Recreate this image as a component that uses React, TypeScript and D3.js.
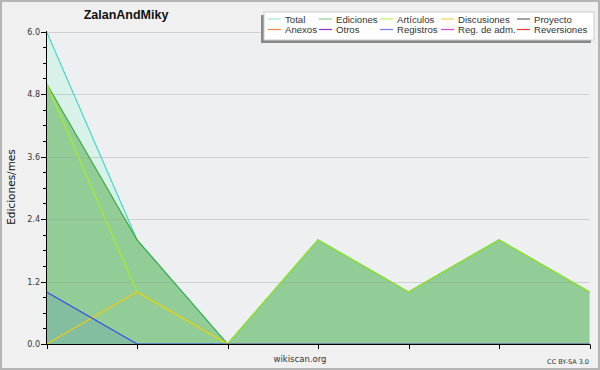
import React from "react";
import * as d3 from "d3";

const months = ["m1", "m2", "m3", "m4", "m5", "m6", "m7"];
const total = [6, 2, 0, 2, 1, 2, 1];
const ediciones = [5, 2, 0, 2, 1, 2, 1];
const articulos = [5, 1, 0, 2, 1, 2, 1];
const discusiones = [0, 1, 0, 0, 0, 0, 0];
const registros = [1, 0, 0, 0, 0, 0, 0];
const yMajorTicks = [0, 1.2, 2.4, 3.6, 4.8, 6.0];
const yMinorTicks = d3.range(0, 21).map((i) => i * 0.3);

const legendRow1 = [
  { name: "Total", color: "#a6e4de" },
  { name: "Ediciones", color: "#8fce92" },
  { name: "Artículos", color: "#ccee66" },
  { name: "Discusiones", color: "#ffcc55" },
  { name: "Proyecto", color: "#666666" },
];
const legendRow2 = [
  { name: "Anexos", color: "#ee8844" },
  { name: "Otros", color: "#8833cc" },
  { name: "Registros", color: "#7777ee" },
  { name: "Reg. de adm.", color: "#cc44dd" },
  { name: "Reversiones", color: "#ee3333" },
];
const legendCols = [268, 319, 380, 441, 517];

export default function App() {
  const W = 600, H = 370;
  const x = d3.scalePoint<number>().domain(d3.range(months.length)).range([46.5, 589.5]);
  const y = d3.scaleLinear().domain([0, 6]).range([344, 31.5]);
  const area = d3.area<number>().x((_, i) => x(i)!).y0(y(0)).y1((d) => y(d));
  const line = d3.line<number>().x((_, i) => x(i)!).y((d) => y(d));
  const font = "DejaVu Sans, sans-serif";
  const lfont = "Liberation Sans, Arial, sans-serif";

  return (
    <svg width={W} height={H} style={{ position: "absolute", left: 0, top: 0 }} xmlns="http://www.w3.org/2000/svg">
      <rect x={0} y={0} width={W} height={H} fill="#f0f0f0" />
      <rect x={1} y={1} width={W - 2} height={H - 2} fill="none" stroke="#b4b4b4" strokeWidth={2} />
      <rect x={46.5} y={31.5} width={543} height={312.5} fill="#eeeff1" />

      {/* fills */}
      <path d={area(total)!} fill="#d8f2ea" />
      <path d={area(ediciones)!} fill="#92cc96" />
      <path d={area(registros)!} fill="#83bea1" />

      {/* grid */}
      {yMajorTicks.slice(1).map((t) => (
        <line key={t} x1={46.5} x2={589.5} y1={Math.round(y(t)) + 0.5} y2={Math.round(y(t)) + 0.5} stroke="#999" strokeOpacity={0.35} />
      ))}

      {/* lines */}
      <path d={line(total)!} fill="none" stroke="#40d8c8" strokeWidth={1.1} />
      <path d={line(ediciones)!} fill="none" stroke="#3aa83a" strokeWidth={1.1} />
      <path d={line(articulos)!} fill="none" stroke="#aaee22" strokeWidth={1.1} />
      <path d={line(discusiones)!} fill="none" stroke="#eecc11" strokeWidth={1.1} />
      <path d={line(registros)!} fill="none" stroke="#3344ee" strokeWidth={1.1} />

      {/* y axis */}
      <line x1={46.5} x2={46.5} y1={31} y2={344.5} stroke="#000" />
      {yMinorTicks.map((t) => (
        <line key={"m" + t} x1={43} x2={46.5} y1={Math.round(y(t)) + 0.5} y2={Math.round(y(t)) + 0.5} stroke="#000" />
      ))}
      {yMajorTicks.map((t) => (
        <g key={"M" + t}>
          <line x1={41} x2={46.5} y1={Math.round(y(t)) + 0.5} y2={Math.round(y(t)) + 0.5} stroke="#000" />
          <text x={40} y={y(t) + 3} fontSize={8} fontFamily={font} textAnchor="end" fill="#333">{t.toFixed(1)}</text>
        </g>
      ))}
      {/* x axis */}
      <line x1={46} x2={590} y1={344.5} y2={344.5} stroke="#000" />
      {months.map((m, i) => (
        <line key={m} x1={Math.round(x(i)!) + 0.5} x2={Math.round(x(i)!) + 0.5} y1={344.5} y2={349} stroke="#000" />
      ))}

      {/* labels */}
      <text x={126} y={18.5} fontSize={12.5} fontWeight="bold" fontFamily={lfont} textAnchor="middle" fill="#111">ZalanAndMiky</text>
      <text transform="translate(15,187) rotate(-90)" fontSize={10.5} fontFamily={font} textAnchor="middle" fill="#111">Ediciones/mes</text>
      <text x={300} y={362} fontSize={8.5} fontFamily={font} textAnchor="middle" fill="#333">wikiscan.org</text>
      <text x={589} y={364} fontSize={6.5} fontFamily={font} textAnchor="end" fill="#333">CC BY-SA 3.0</text>

      {/* legend */}
      <rect x={261} y={15} width={330} height={28} fill="#888" />
      <rect x={264} y={12} width={330} height={28} fill="#fff" stroke="#ccc" />
      {[legendRow1, legendRow2].map((row, r) =>
        row.map((e, c) => (
          <g key={e.name}>
            <line x1={legendCols[c]} x2={legendCols[c] + 13} y1={19 + r * 10.5} y2={19 + r * 10.5} stroke={e.color} strokeWidth={1.2} />
            <text x={legendCols[c] + 17} y={22.5 + r * 10.5} fontSize={9.6} fontFamily={lfont} fill="#333">{e.name}</text>
          </g>
        ))
      )}
    </svg>
  );
}
